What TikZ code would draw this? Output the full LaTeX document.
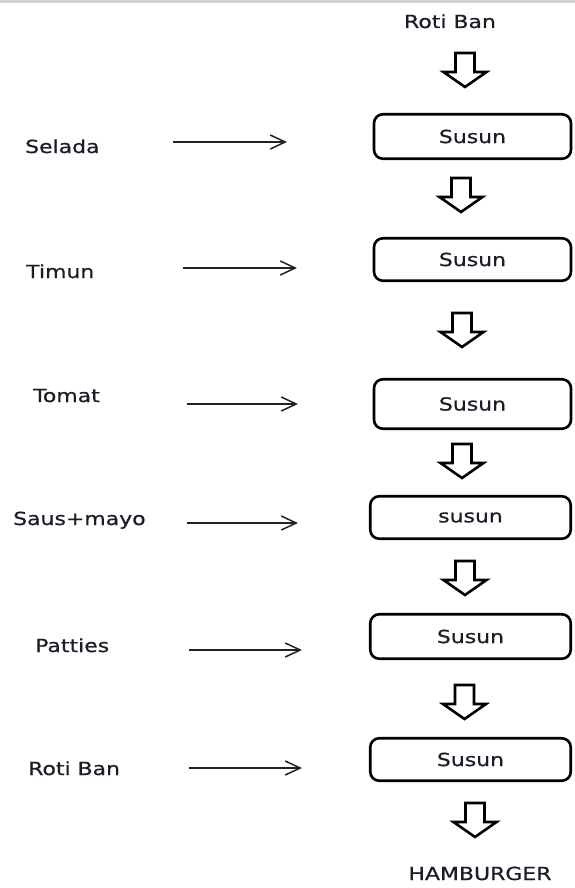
\documentclass[tikz,border=0pt]{standalone}
\usepackage{fontspec}
\setmainfont[FakeStretch=1.22,FakeBold=0.7]{DejaVu Sans}
\usetikzlibrary{arrows.meta}
\definecolor{txt}{HTML}{1C1C28}
\definecolor{strip}{HTML}{CFD2D8}
\definecolor{ln}{HTML}{222222}
\tikzset{
  lbl/.style={font=\fontsize{18pt}{20pt}\selectfont, text=txt, inner sep=0pt},
  susunbox/.style={draw=black, line width=2.6pt, rounded corners=9pt, minimum width=197pt, inner sep=0pt, font=\fontsize{18pt}{20pt}\selectfont, text=txt},
  feed/.style={draw=ln, line width=1.5pt, -{Straight Barb[length=15pt,width=14pt,line width=1.5pt]}},
  downarrow/.pic={\draw[line width=2.6pt, line join=miter, fill=white] (-9.5,0) -- (9.5,0) -- (9.5,19) -- (21.5,19) -- (0,34) -- (-21.5,19) -- (-9.5,19) -- cycle;}
}
\begin{document}
\begin{tikzpicture}[x=1pt,y=-1pt]
\useasboundingbox (0,0) rectangle (575,888);
\fill[strip] (0,0) rectangle (575,3.3);
% top and bottom texts
\node[lbl, anchor=base] (top) at (450,28) {Roti Ban};
\node[lbl, anchor=base] (ham) at (480,880) {HAMBURGER};
% boxes
\node[susunbox, minimum height=44.5pt] (b1) at (472.5,136.5) {Susun};
\node[susunbox, minimum height=42.5pt] (b2) at (472.5,259.5) {Susun};
\node[susunbox, minimum height=49.5pt] (b3) at (472.5,404) {Susun};
\node[susunbox, minimum height=42.5pt, minimum width=200.5pt] (b4) at (470.5,517.5) {susun};
\node[susunbox, minimum height=44.5pt, minimum width=200.5pt] (b5) at (470.5,636.5) {Susun};
\node[susunbox, minimum height=42.5pt, minimum width=200.5pt] (b6) at (470.5,759.5) {Susun};
% block arrows
\pic at (465,53) {downarrow};
\pic at (461,178) {downarrow};
\pic at (462,313) {downarrow};
\pic at (462,444) {downarrow};
\pic at (465,561) {downarrow};
\pic at (464.5,685) {downarrow};
\pic at (475,803) {downarrow};
% left labels
\node[lbl, anchor=base west] (l1) at (25,153) {Selada};
\node[lbl, anchor=base west] (l2) at (26,278) {Timun};
\node[lbl, anchor=base west] (l3) at (33,402) {Tomat};
\node[lbl, anchor=base west] (l4) at (13,525) {Saus+mayo};
\node[lbl, anchor=base west] (l5) at (35,652) {Patties};
\node[lbl, anchor=base west] (l6) at (28,775) {Roti Ban};
% feed arrows
\coordinate (s1) at (173,142); \coordinate (e1) at (287,142);
\coordinate (s2) at (183,268); \coordinate (e2) at (297,268);
\coordinate (s3) at (187,404); \coordinate (e3) at (298,404);
\coordinate (s4) at (187,523); \coordinate (e4) at (298,523);
\coordinate (s5) at (189,650); \coordinate (e5) at (302,650);
\coordinate (s6) at (189,768); \coordinate (e6) at (302,768);
\foreach \i in {1,...,6} {\draw[feed] (s\i) -- (e\i);}
\end{tikzpicture}
\end{document}
